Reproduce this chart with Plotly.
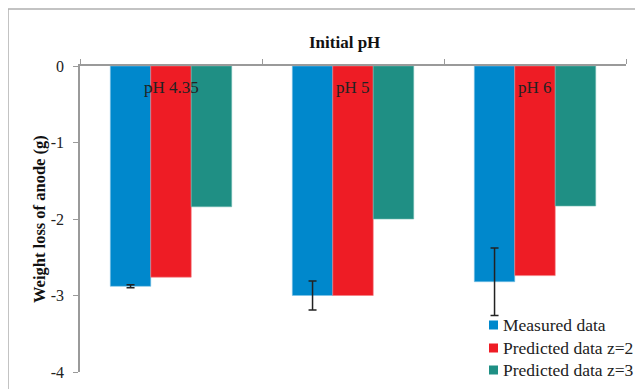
import plotly.graph_objects as go

categories = ["pH 4.35", "pH 5", "pH 6"]
measured = [-2.88, -3.00, -2.82]
measured_err = [0.02, 0.19, 0.44]
pred_z2 = [-2.76, -3.00, -2.74]
pred_z3 = [-1.84, -2.00, -1.83]
series_names = ["Measured data", "Predicted data z=2", "Predicted data z=3"]
colors = ["#0088CC", "#EE1C25", "#1F8F84"]
yticks = [0, -1, -2, -3, -4]

FONT = "Liberation Serif, Times New Roman, serif"
xs = list(range(len(categories)))

# page body has an 8px margin; compensate so plot lands at reference pixels
OFF = 8
L, R, T, B = 80, 626, 66, 372   # plot area in reference pixels
PW, PH = R - L, B - T


def px(x):
    return (x - L) / PW


def py(y):
    return (B - y) / PH


fig = go.Figure()
fig.add_trace(go.Bar(
    x=xs, y=measured, name=series_names[0], marker_color=colors[0],
    marker_line=dict(color="#7ec3e6", width=0.6),
    error_y=dict(type="data", array=measured_err, visible=True,
                 color="#222222", thickness=1.5, width=4)))
fig.add_trace(go.Bar(
    x=xs, y=pred_z2, name=series_names[1], marker_color=colors[1],
    marker_line=dict(color="#f47a80", width=0.6)))
fig.add_trace(go.Bar(
    x=xs, y=pred_z3, name=series_names[2], marker_color=colors[2],
    marker_line=dict(color="#6fb8b0", width=0.6)))

for i, c in enumerate(categories):
    fig.add_annotation(x=i, y=-0.275, text=c, showarrow=False,
                       font=dict(family=FONT, size=17, color="#222222"),
                       xanchor="center", yanchor="middle")

fig.add_annotation(text="<b>Initial pH</b>", xref="paper", yref="paper",
                   x=px(344), y=py(42),
                   showarrow=False, xanchor="center", yanchor="middle",
                   font=dict(family=FONT, size=17, color="#111111"))

# y-axis title placed at its reference position
fig.add_annotation(text="<b>Weight loss of anode (g)</b>", xref="paper",
                   yref="paper", x=px(39), y=py(219), textangle=-90,
                   showarrow=False, xanchor="center", yanchor="middle",
                   font=dict(family=FONT, size=16.5, color="#111111"))

# legend (drawn to match the reference's compact layout)
leg_rows = [325, 348, 370]
for name, col, yc in zip(series_names, colors, leg_rows):
    fig.add_shape(type="rect", xref="paper", yref="paper",
                  x0=px(489), x1=px(498), y0=py(yc + 4.5), y1=py(yc - 4.5),
                  fillcolor=col, line=dict(width=0))
    fig.add_annotation(text=name, xref="paper", yref="paper",
                       x=px(501), y=py(yc), showarrow=False,
                       xanchor="left", yanchor="middle",
                       font=dict(family=FONT, size=17.5, color="#222222"))

# outer chart frame
fig.add_shape(type="rect", xref="paper", yref="paper",
              x0=px(8), x1=px(680), y0=py(440), y1=py(9),
              line=dict(color="#b0b0b0", width=1.5), layer="below")

fig.update_layout(
    width=643 - OFF, height=389 - OFF,
    margin=dict(l=L - OFF, r=643 - R, t=T - OFF, b=389 - B, autoexpand=False),
    paper_bgcolor="white", plot_bgcolor="white",
    barmode="group", bargap=0.333, bargroupgap=0,
    showlegend=False,
    font=dict(family=FONT, size=15, color="#222222"),
)
fig.update_xaxes(range=[-0.5, 2.5], side="top", showline=True,
                 linecolor="#9a9a9a", linewidth=1.5, automargin=False,
                 tickvals=[-0.5, 0.5, 1.5, 2.5], ticktext=["", "", "", ""],
                 ticks="outside", ticklen=5, tickcolor="#9a9a9a",
                 showgrid=False, zeroline=False)
fig.update_yaxes(range=[-4, 0], showline=True, linecolor="#9a9a9a",
                 linewidth=1.5, tickvals=yticks, automargin=False,
                 ticktext=[str(v) for v in yticks],
                 ticks="outside", ticklen=5, tickcolor="#9a9a9a",
                 ticklabelstandoff=6,
                 showgrid=False, zeroline=False,
                 tickfont=dict(family=FONT, size=16, color="#222222"))

fig.write_html("out.html")
